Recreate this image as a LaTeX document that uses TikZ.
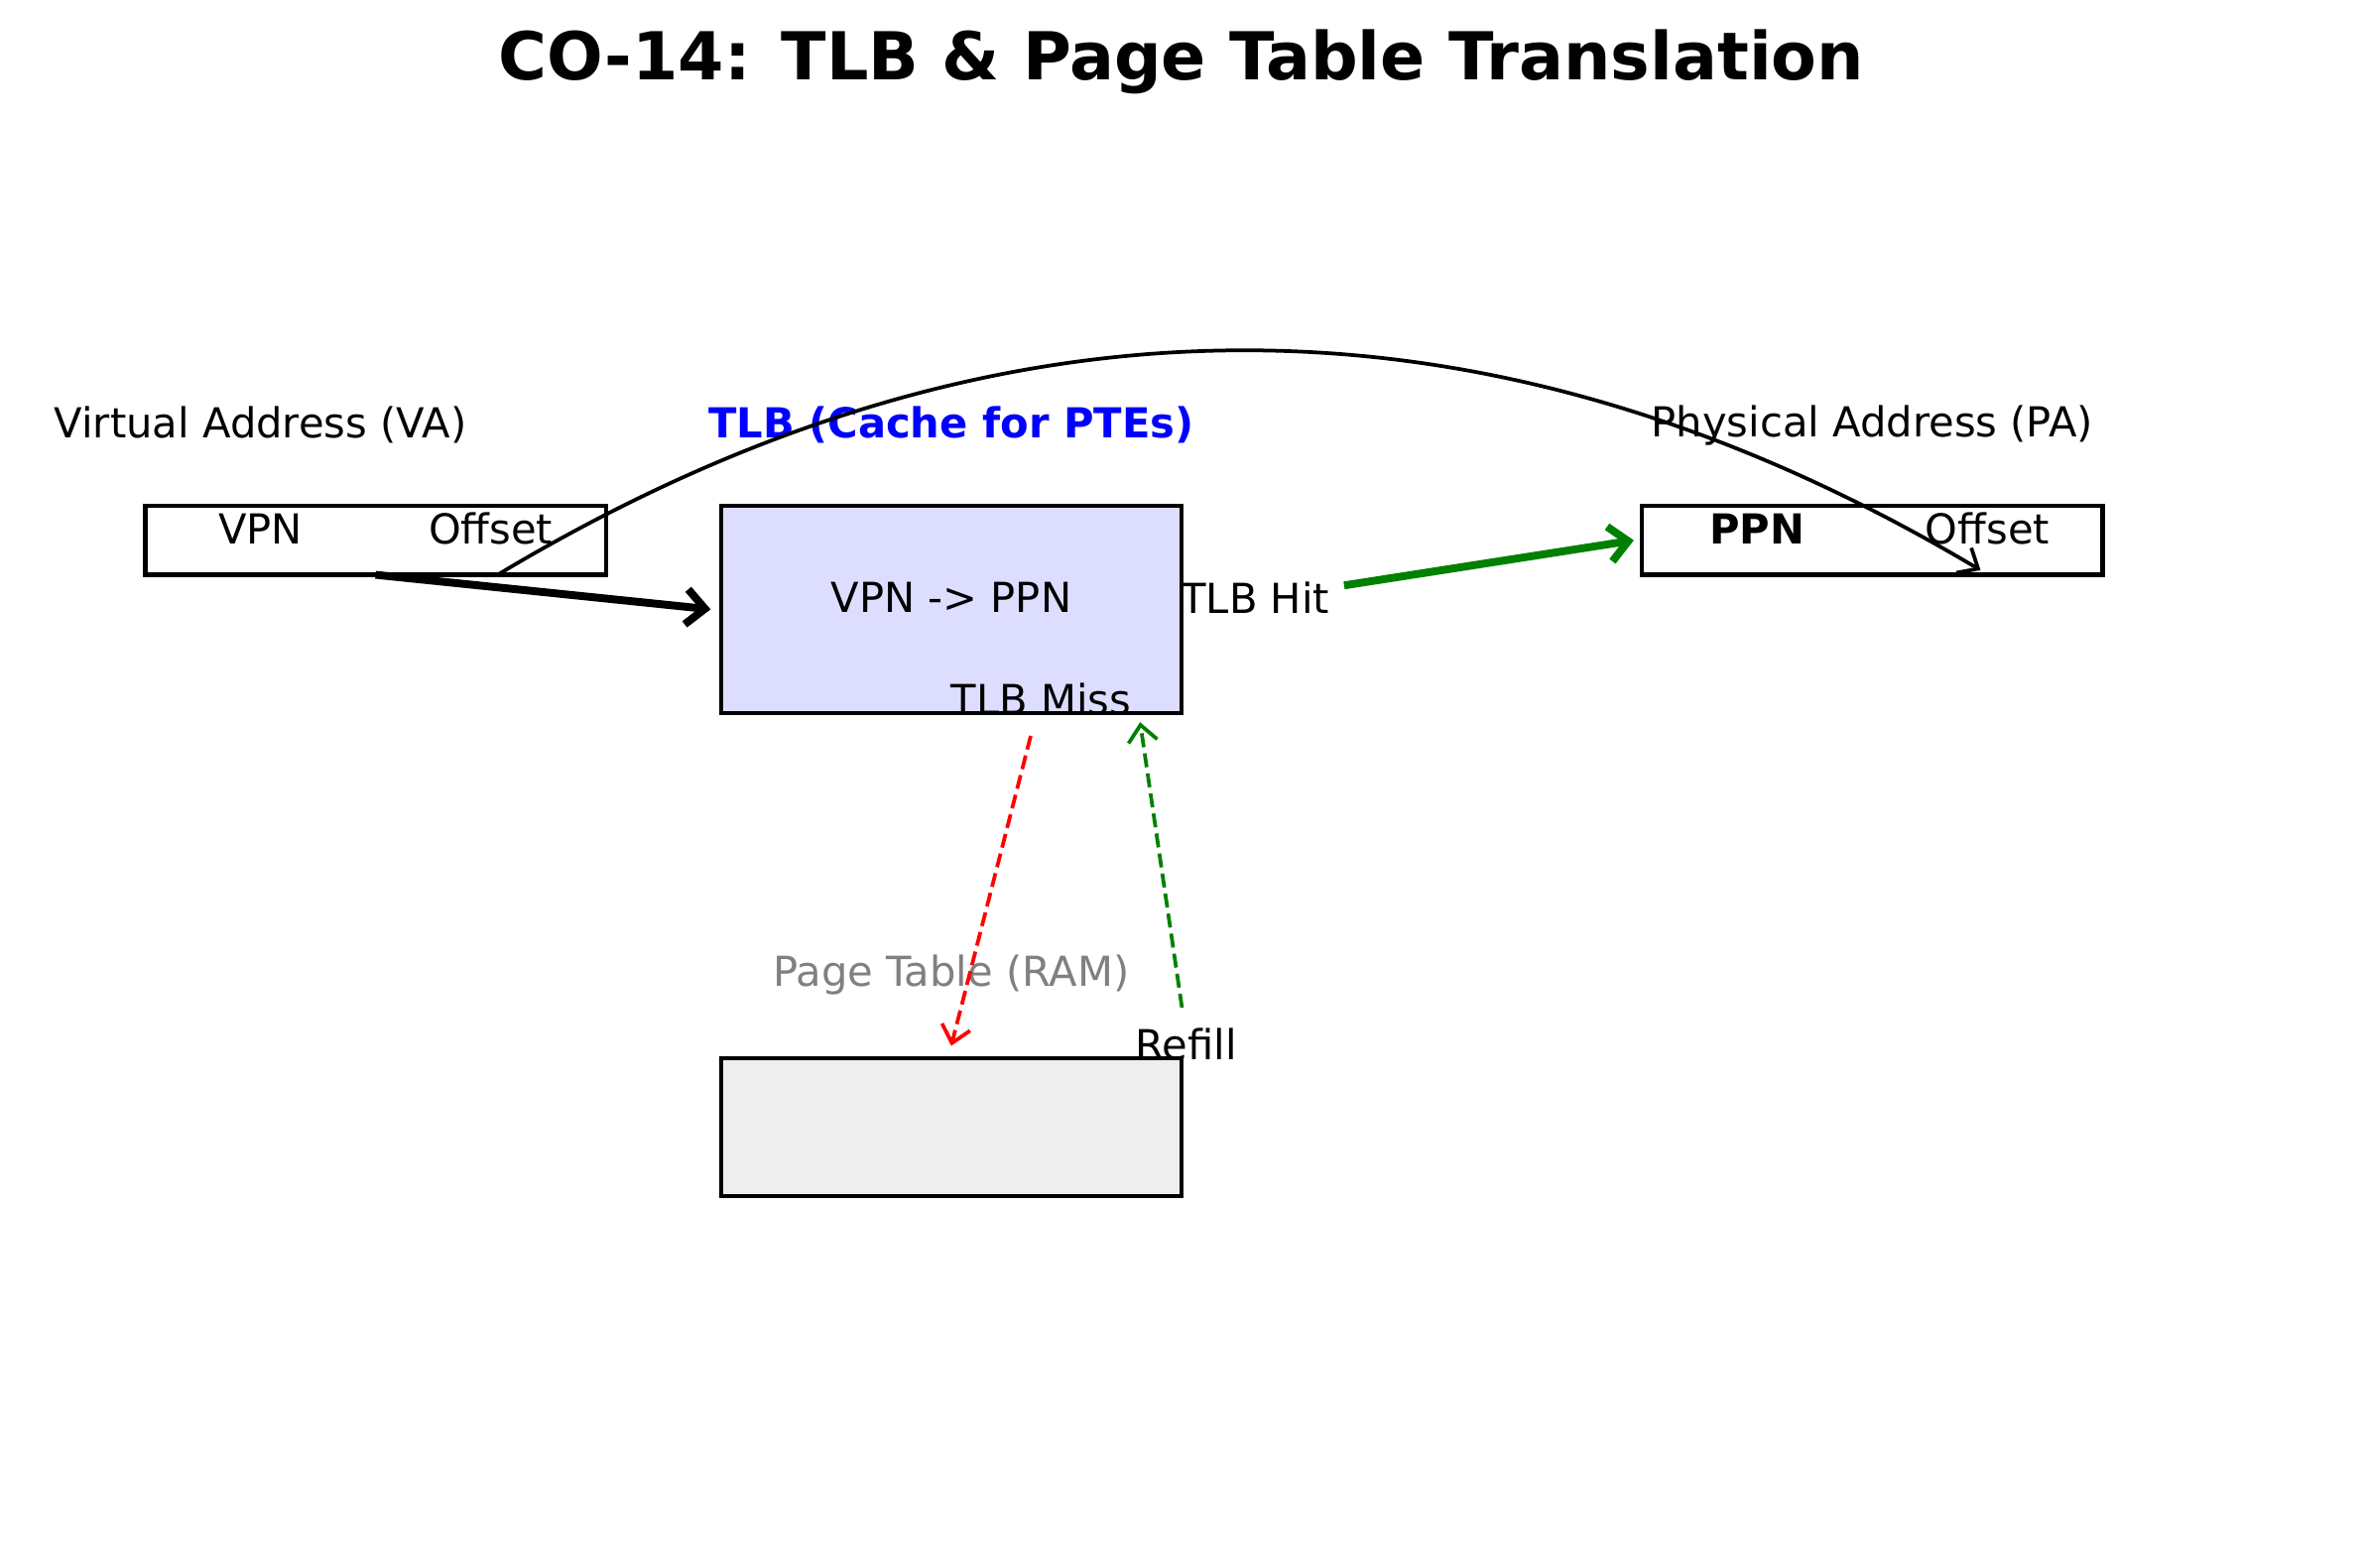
\documentclass[tikz,border=0pt]{standalone}
\usepackage{fontspec}
\setmainfont{DejaVu Sans}
\usetikzlibrary{positioning,arrows.meta}
\definecolor{tlbfill}{RGB}{221,221,255}
\definecolor{ptfill}{RGB}{238,238,238}
\definecolor{mplgreen}{RGB}{0,128,0}

\begin{document}
\begin{tikzpicture}[x=55.71pt,y=55.71pt, every node/.style={align=center,font=\fontsize{10}{12}\selectfont},
  box/.style={draw,line width=1pt,outer sep=0pt,minimum width=111.42pt},
  thinarr/.style={-{Straight Barb[length=4pt,width=7pt]},line width=0.9pt},
  thickarr/.style={-{Straight Barb[length=4.5pt,width=8.5pt]},line width=1.9pt},
  dashline/.style={dash pattern=on 3.4pt off 1.5pt}]
\useasboundingbox (-0.131,1.688) rectangle (10.144,8.497);
\node[font=\fontsize{16}{19}\selectfont\bfseries] (title) at (5,8.23) {CO-14: TLB \& Page Table Translation};
% virtual address
\node (valbl) at (1.0,6.65) {Virtual Address (VA)};
\node[box,fill=white,minimum height=16.71pt] (vabox) at (1.5,6.15) {};
\node (vpn) at (1.0,6.2) {VPN};
\node (vaoff) at (2.0,6.2) {Offset};
% tlb
\node[text=blue,font=\fontsize{10}{12}\selectfont\bfseries] (tlblbl) at (4.0,6.65) {TLB (Cache for PTEs)};
\node[box,fill=tlbfill,minimum height=50.14pt] (tlb) at (4,5.85) {};
\node (map) at (4,5.9) {VPN -> PPN};
\node (miss) at (4.39,5.46) {TLB Miss};
\node (hit) at (5.32,5.9) {TLB Hit};
% physical address
\node (palbl) at (8.0,6.65) {Physical Address (PA)};
\node[box,fill=white,minimum height=16.71pt] (pabox) at (8,6.15) {};
\node[font=\fontsize{10}{12}\selectfont\bfseries] (ppn) at (7.5,6.2) {PPN};
\node (paoff) at (8.5,6.2) {Offset};
% page table
\node[text=gray] (ptlbl) at (4.0,4.26) {Page Table (RAM)};
\node[box,fill=ptfill,minimum height=33.43pt] (ptbox) at (4,3.6) {};
\node (refill) at (5.02,3.96) {Refill};
\coordinate (offsrc) at (2.03,6.0);
\coordinate (offdst) at (8.47,6.02);
\coordinate (refillin) at (4.82,5.36);
\draw[thickarr] (vabox.south) -- ([xshift=-2.5pt]tlb.west);
\draw[thickarr,mplgreen] ([yshift=3pt]hit.east) -- ([xshift=-2pt]pabox.west);
\draw[thinarr] (offsrc) .. controls (4.18,7.29) and (6.32,7.30) .. (offdst);
\draw[thinarr,dashline,red] ([xshift=-2.5pt,yshift=-1.5pt]miss.south) -- ([yshift=3pt]ptbox.north);
\draw[thinarr,dashline,mplgreen] ([xshift=-1pt,yshift=1.5pt]refill.north) -- (refillin);
\end{tikzpicture}
\end{document}
